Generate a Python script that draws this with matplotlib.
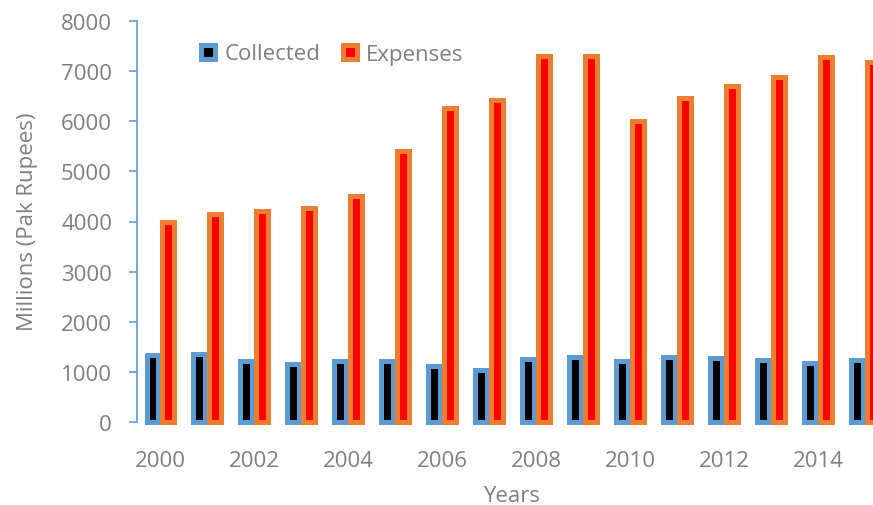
import numpy as np
import matplotlib.pyplot as plt
from matplotlib.lines import Line2D

# Data -----------------------------------------------------------------
years = list(range(2000, 2016))
collected = [1340, 1350, 1210, 1160, 1210, 1210, 1110, 1030,
             1250, 1300, 1210, 1290, 1280, 1230, 1180, 1240]
expenses = [4000, 4150, 4210, 4270, 4500, 5410, 6260, 6430,
            7310, 7300, 6010, 6460, 6700, 6880, 7290, 7190]
label_years = [2000, 2002, 2004, 2006, 2008, 2010, 2012, 2014]

# Style ----------------------------------------------------------------
plt.rcParams['font.family'] = ['Open Sans', 'DejaVu Sans']
grey = '#7f7f7f'
blue = '#5b9bd5'
orange = '#ed7d31'
fs = 16

W, H = 873, 506
fig = plt.figure(figsize=(W / 100, H / 100), dpi=100)
# axes runs past the right edge, like the cropped original
ax = fig.add_axes([137 / W, (H - 423) / H, 751.5 / W, 401 / H])

x = np.arange(len(years))
width = 0.255
off = 0.17
lw = 3.6  # thick outline, in points

ax.bar(x - off, collected, width, color='black', edgecolor=blue,
       linewidth=lw, clip_on=False)
ax.bar(x + off, expenses, width, color='red', edgecolor=orange,
       linewidth=lw, clip_on=False)

ax.set_xlim(-0.5, len(years) - 0.5)
ax.set_ylim(0, 8000)
ax.set_yticks(range(0, 8001, 1000))
ax.set_xticks([years.index(y) for y in label_years])
ax.set_xticklabels([str(y) for y in label_years])

for s in ['top', 'right', 'bottom']:
    ax.spines[s].set_visible(False)
ax.spines['left'].set_color(blue)
ax.spines['left'].set_linewidth(1.2)

ax.tick_params(axis='y', colors=blue, labelcolor=grey, labelsize=fs,
               length=6, width=1.2, pad=12)
ax.tick_params(axis='x', length=0, labelcolor=grey, labelsize=fs, pad=20)

fig.text(28 / W, 1 - 222 / H, 'Millions (Pak Rupees)', rotation=90,
         ha='center', va='center', color=grey, fontsize=fs)
fig.text(512 / W, 1 - 497 / H, 'Years', ha='center', va='center',
         color=grey, fontsize=fs)

# Legend ---------------------------------------------------------------
handles = [
    Line2D([], [], linestyle='none', marker='s', markersize=10.5,
           markerfacecolor='black', markeredgecolor=blue, markeredgewidth=lw),
    Line2D([], [], linestyle='none', marker='s', markersize=10.5,
           markerfacecolor='red', markeredgecolor=orange, markeredgewidth=lw),
]
fig.legend(handles, ['Collected', 'Expenses'], loc='center left',
           bbox_to_anchor=(199 / W, 1 - 55 / H), ncol=2, frameon=False,
           fontsize=fs, labelcolor=grey, handlelength=0.85,
           handletextpad=0.3, columnspacing=0.9, borderpad=0,
           borderaxespad=0)

fig.savefig('out.png', dpi=100)
